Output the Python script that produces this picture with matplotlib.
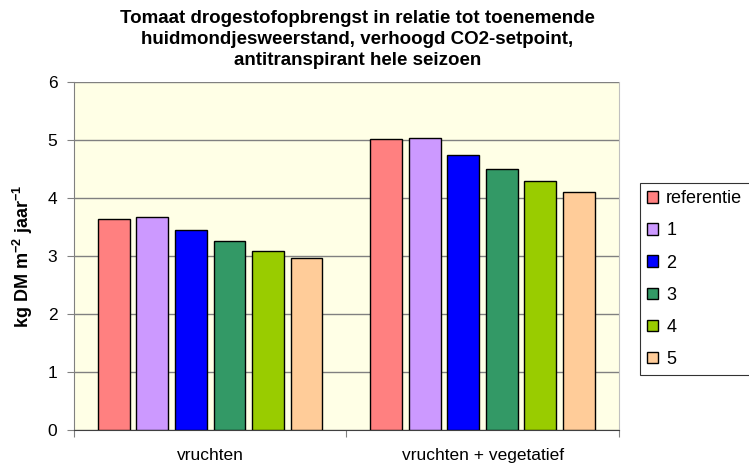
import matplotlib
matplotlib.use("Agg")
import matplotlib.pyplot as plt
import numpy as np

categories = ["vruchten", "vruchten + vegetatief"]
series_names = ["referentie", "1", "2", "3", "4", "5"]
values = {
    "referentie": [3.64, 5.01],
    "1": [3.67, 5.04],
    "2": [3.44, 4.74],
    "3": [3.25, 4.50],
    "4": [3.09, 4.29],
    "5": [2.97, 4.11],
}
colors = ["#FF8080", "#CC99FF", "#0000FF", "#339966", "#99CC00", "#FFCC99"]
yticks = [0, 1, 2, 3, 4, 5, 6]

plt.rcParams['font.family'] = ['Liberation Sans', 'DejaVu Sans']

fig = plt.figure(figsize=(7.49, 4.68), dpi=100)
ax = fig.add_axes([0.0988, 0.0812, 0.7276, 0.7436])
ax.set_facecolor("#FFFFE6")

x = np.arange(len(categories))
pitch = 0.1413
width = 0.1174
n = len(series_names)
handles = []
for i, name in enumerate(series_names):
    offs = (i - (n - 1) / 2) * pitch
    b = ax.bar(x + offs, values[name], width, color=colors[i], edgecolor="black",
               linewidth=1.0, label=name, zorder=3)
    handles.append(b)

ax.set_xlim(-0.5, 1.5)
ax.set_ylim(0, 6)
ax.set_yticks(yticks)
ax.set_yticklabels([str(t) for t in yticks], fontsize=12.5)
ax.yaxis.grid(True, color="#808080", linewidth=1.0, zorder=0)
ax.set_axisbelow(True)

ax.set_xticks([-0.5, 0.5, 1.5])
ax.set_xticklabels([])
ax.set_xticks(x, minor=True)
ax.set_xticklabels(categories, minor=True, fontsize=12.5)
ax.tick_params(axis='x', which='minor', length=0, pad=13)
ax.tick_params(axis='x', which='major', length=5, color="#808080", direction='out')
ax.tick_params(axis='y', length=5, color="#808080", direction='out', pad=7)

ax.spines["top"].set_visible(False)
ax.spines["right"].set_color("#C0C0C0")
ax.spines["left"].set_color("#808080")
ax.spines["bottom"].set_color("#404040")

ax.set_ylabel("kg DM m$^{\\mathregular{-2}}$ jaar$^{\\mathregular{-1}}$", fontsize=13, fontweight="bold", labelpad=9)

fig.text(0.477, 0.978, "Tomaat drogestofopbrengst in relatie tot toenemende\nhuidmondjesweerstand, verhoogd CO2-setpoint,\nantitranspirant hele seizoen",
         ha="center", va="top", fontsize=13.5, fontweight="bold", linespacing=1.3)

leg = fig.legend(handles=handles, labels=series_names, loc="upper left",
                 bbox_to_anchor=(0.8545, 0.609), fontsize=13, frameon=True,
                 fancybox=False, edgecolor="black", handlelength=0.6, handleheight=0.6,
                 labelspacing=0.84, borderpad=0.4, borderaxespad=0, handletextpad=0.45)
leg.get_frame().set_linewidth(0.8)

fig.savefig("out.png", dpi=100)
